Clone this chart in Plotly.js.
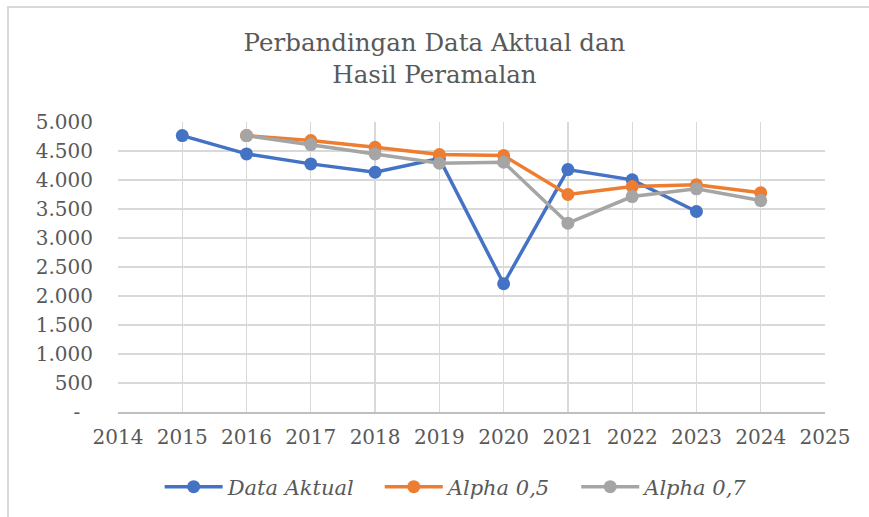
<!DOCTYPE html>
<html>
<head>
<meta charset="utf-8">
<script src="https://cdn.plot.ly/plotly-3.0.1.min.js"></script>
<style>
  html, body { margin: 0; padding: 0; background: #ffffff; }
  #wrap { position: relative; width: 869px; height: 517px; overflow: hidden; }
  #chart { position: absolute; left: 0; top: 0; width: 869px; height: 517px; }
  #frame { position: absolute; left: 7px; top: 6px; width: 900px; height: 600px;
           border-left: 2px solid #d9d9d9; border-top: 2px solid #d9d9d9; pointer-events: none; }
</style>
</head>
<body>
<div id="wrap">
  <div id="chart"></div>
  <div id="frame"></div>
</div>
<script>
const years = [2015, 2016, 2017, 2018, 2019, 2020, 2021, 2022, 2023, 2024];
const dataAktual = [4766, 4450, 4278, 4134, 4370, 2211, 4180, 4003, 3457, null];
const alpha05 = [null, 4766, 4680, 4564, 4438, 4421, 3750, 3887, 3917, 3779];
const alpha07 = [null, 4766, 4611, 4450, 4289, 4306, 3255, 3715, 3848, 3646];

const seriesNames = ['Data Aktual', 'Alpha 0,5', 'Alpha 0,7'];
const seriesColors = ['#4472C4', '#ED7D31', '#A5A5A5'];

const yTickVals = [0, 500, 1000, 1500, 2000, 2500, 3000, 3500, 4000, 4500, 5000];
const yTickText = ['-\u00a0\u00a0', '500', '1.000', '1.500', '2.000', '2.500', '3.000', '3.500', '4.000', '4.500', '5.000'];
const xTickVals = [2014, 2015, 2016, 2017, 2018, 2019, 2020, 2021, 2022, 2023, 2024, 2025];

const serif = 'DejaVu Serif, Liberation Serif, serif';
const txt = '#595959';
const pad = '\u00a0\u00a0\u00a0';

const seriesData = [dataAktual, alpha05, alpha07];
const traces = seriesData.map((ys, i) => ({
  x: years,
  y: ys,
  type: 'scatter',
  mode: 'lines+markers',
  name: seriesNames[i] + (i < seriesData.length - 1 ? pad : ''),
  connectgaps: false,
  line: { color: seriesColors[i], width: 3.5 },
  marker: { color: seriesColors[i], size: 13 }
}));

const layout = {
  width: 869,
  height: 517,
  paper_bgcolor: '#ffffff',
  plot_bgcolor: '#ffffff',
  margin: { l: 118, r: 44, t: 122, b: 105 },
  showlegend: true,
  title: {
    text: 'Perbandingan Data Aktual dan<br>Hasil Peramalan',
    font: { family: serif, size: 24.5, color: txt },
    x: 0.5, xanchor: 'center',
    y: 0.902, yref: 'container', yanchor: 'middle'
  },
  xaxis: {
    range: [2014, 2025],
    tickvals: xTickVals,
    ticktext: xTickVals.map(String),
    showgrid: true,
    gridcolor: '#d9d9d9',
    gridwidth: 1.3,
    showline: true,
    linecolor: '#bfbfbf',
    linewidth: 1.5,
    zeroline: false,
    ticks: '',
    ticklabelstandoff: 6,
    tickfont: { family: serif, size: 20, color: txt }
  },
  yaxis: {
    range: [0, 5000],
    tickvals: yTickVals,
    ticktext: yTickText,
    showgrid: true,
    gridcolor: '#d9d9d9',
    gridwidth: 1.3,
    showline: false,
    zeroline: false,
    ticks: '',
    ticklabelstandoff: 24,
    tickfont: { family: serif, size: 20, color: txt }
  },
  legend: {
    orientation: 'h',
    x: 0.479, xanchor: 'center',
    xref: 'paper',
    y: 0.058, yanchor: 'middle',
    yref: 'container',
    font: { family: serif, size: 21, color: txt, style: 'italic' },
    itemwidth: 58,
    traceorder: 'normal'
  }
};

Plotly.newPlot('chart', traces, layout, { staticPlot: true, displayModeBar: false });
</script>
</body>
</html>
